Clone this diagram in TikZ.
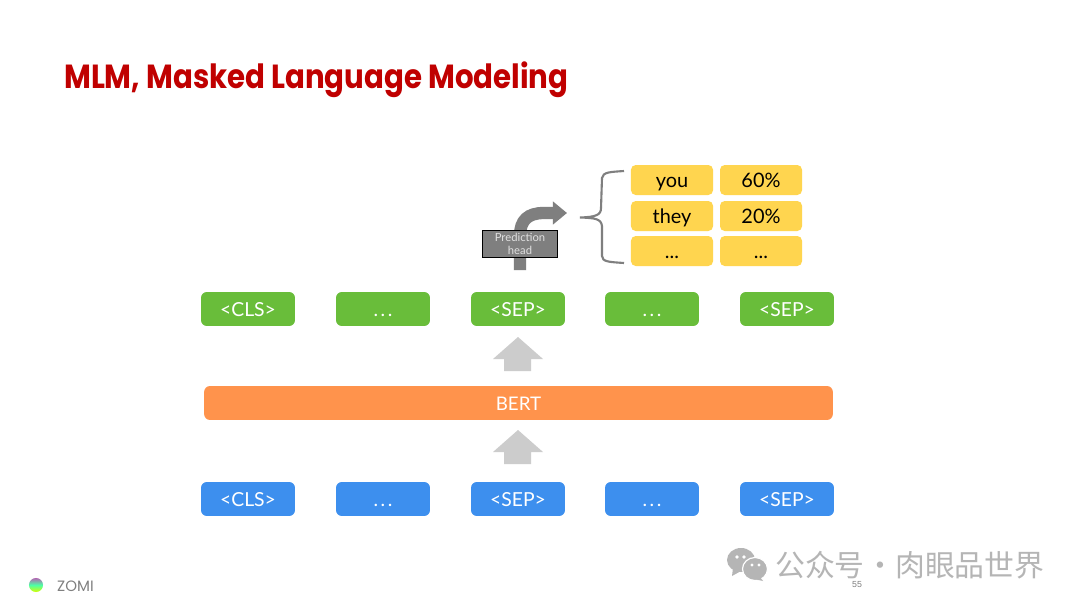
\documentclass[tikz,border=0pt]{standalone}
\usepackage{fontspec}
\setmainfont{Lato}
\newfontfamily\titlefont[FakeStretch=0.875]{Poppins}
\newfontfamily\zomifont{Poppins}
\newfontfamily\cnfont{Noto Sans CJK SC}
\newfontfamily\numfont{Liberation Sans}
\usetikzlibrary{arrows.meta}
\definecolor{titlered}{HTML}{C00000}
\definecolor{tokengreen}{HTML}{69BD3A}
\definecolor{tokenblue}{HTML}{3D8FEE}
\definecolor{bertorange}{HTML}{FF934C}
\definecolor{cellyellow}{HTML}{FFD54F}
\definecolor{headgray}{HTML}{7F7F7F}
\definecolor{markgray}{HTML}{B5B5B5}
\newcommand{\wdots}{.\hspace{2.2pt}.\hspace{2.2pt}.}
\tikzset{
  token/.style={rounded corners=5pt,text=white,minimum width=80.2pt,minimum height=29pt,inner sep=0pt,text height=12pt,text depth=0pt,font=\fontsize{16.5}{18}\selectfont},
  cell/.style={fill=cellyellow,rounded corners=4pt,minimum width=70pt,minimum height=25.6pt,inner sep=0pt,text height=12pt,text depth=0pt,font=\fontsize{17}{19}\selectfont}
}
\begin{document}
\begin{tikzpicture}[x=0.03cm,y=-0.03cm,line cap=butt]
\useasboundingbox[fill=white] (0,0) rectangle (1080,608);
\node[anchor=base west,inner sep=0pt,text=titlered,font=\titlefont\bfseries\fontsize{28.5}{30}\selectfont] (title) at (64,88) {MLM, Masked Language Modeling};
% token rows
\foreach \x/\t/\n in {248/{<CLS>}/a,383/{\wdots}/b,518/{<SEP>}/c,652/{\wdots}/d,787/{<SEP>}/e}{
  \node[token,fill=tokengreen] (out\n) at (\x,309) {\t};
  \node[token,fill=tokenblue] (in\n) at (\x,499) {\t};
}
\node[token,fill=bertorange,minimum width=536.6pt,font=\fontsize{16}{18}\selectfont] (bert) at (518.5,403) {BERT};
% block arrows
\foreach \y in {337,430}{
  \fill[black!20] (518,\y) -- (543,\y+22) -- (531,\y+22) -- (531,\y+34) -- (504,\y+34) -- (504,\y+22) -- (493,\y+22) -- cycle;
}
% prediction head
\coordinate (stemstart) at (520,270);
\coordinate (stemend) at (567,213);
\draw[headgray,line width=10.5pt,-{Triangle[length=12pt,width=19pt]}] (stemstart) -- (520,236) .. controls (520,220) and (528,213) .. (544,213) -- (stemend);
\node[draw=black,fill=headgray,text=white!88!black,line width=0.8pt,minimum width=64pt,minimum height=23pt,inner sep=0pt,align=center,font=\fontsize{9.6}{11}\selectfont] (head) at (520,244) {Prediction\\head};
% bracket
\draw[headgray,line width=1.8pt] (624,171) .. controls (610,172) and (603,172) .. (602,178) -- (601,208) .. controls (601,215) and (596,217) .. (580,217.5) .. controls (596,218) and (601,219) .. (602,226) -- (602,256) .. controls (602,262) and (610,262) .. (624,263);
% yellow cells
\foreach \x/\y/\t/\n in {672/180/you/a,761/180/60\%/b,672/216/they/c,761/216/20\%/d,672/251/{...}/e,761/251/{...}/f}{
  \node[cell] (cell\n) at (\x,\y) {\t};
}
% footer
\node[circle,minimum size=12pt,inner sep=0pt,top color=violet!60,bottom color=yellow!85!green,middle color=cyan!50!green!70] (logo) at (36,585) {};
\node[anchor=west,inner sep=0pt,text=gray,font=\zomifont\fontsize{12.8}{14}\selectfont] (zomi) at (57,586) {ZOMI};
\fill[markgray] (741,560) ellipse (14 and 12);
\fill[markgray] (733,568) -- (732,576) -- (741,571) -- cycle;
\draw[white,line width=1pt,fill=markgray] (755,569) ellipse (12.5 and 11.5);
\fill[markgray] (760,577) -- (763,581) -- (754,579) -- cycle;
\foreach \x in {737,744}{\fill[white] (\x,557) circle (1.8);}
\foreach \x in {752,759}{\fill[white] (\x,565) circle (1.6);}
\node[anchor=west,inner sep=0pt,text=markgray,font=\cnfont\fontsize{25.5}{27}\selectfont] (mark) at (775,565) {公众号\hspace{-5.5pt} · \hspace{-5.5pt}肉眼品世界};
\node[inner sep=0pt,text=gray,font=\numfont\fontsize{7.5}{9}\selectfont] (page) at (857,585) {55};
\end{tikzpicture}
\end{document}
